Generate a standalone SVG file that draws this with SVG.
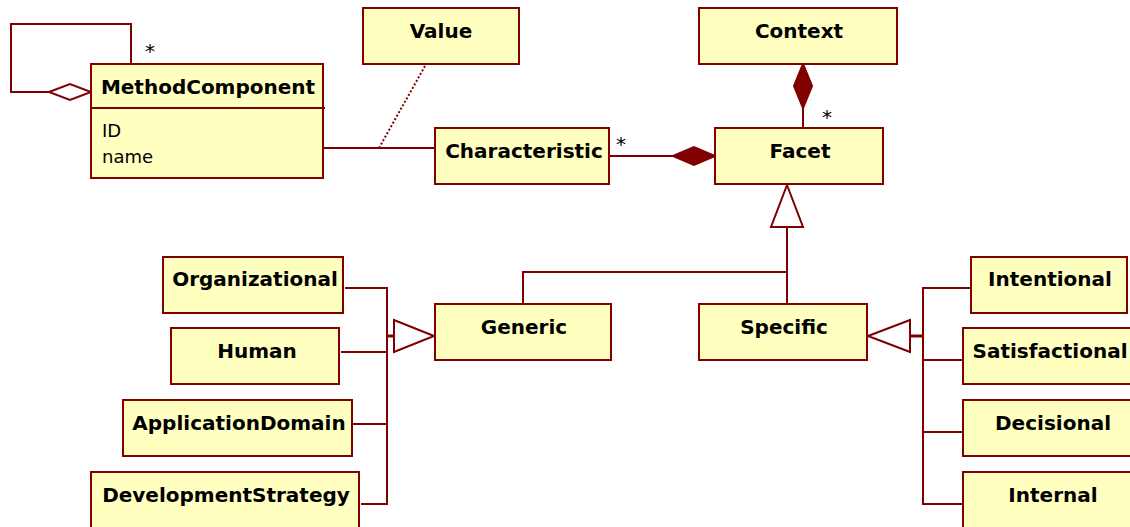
<svg xmlns="http://www.w3.org/2000/svg" width="1130" height="527" viewBox="0 0 1130 527">
<style>
.box{fill:#ffffc0;stroke:#800000;stroke-width:2}
.ln{fill:none;stroke:#800000;stroke-width:2}
.t{font-family:"DejaVu Sans",Verdana,sans-serif;font-weight:bold;font-size:20px;fill:#000;text-anchor:middle}
.a{font-family:"DejaVu Sans",Verdana,sans-serif;font-size:18px;fill:#000}
.m{font-family:"DejaVu Sans",Verdana,sans-serif;font-size:20px;fill:#000}
</style>
<rect width="1130" height="527" fill="#fff"/>
<g id="connectors">
<polyline class="ln" points="131,64 131,24 11,24 11,92 49,92"/>
<polygon points="49,92 70,84 91,92 70,100" fill="#fff" stroke="#800000" stroke-width="2"/>
<text class="m" x="145" y="58">*</text>
<line class="ln" x1="323" y1="148" x2="435" y2="148"/>
<line x1="425" y1="66" x2="379" y2="148" stroke="#800000" stroke-width="2" stroke-dasharray="2,2"/>
<line class="ln" x1="609" y1="156" x2="673" y2="156"/>
<polygon points="673,156 694,147 715,156 694,165" fill="#800000" stroke="#800000" stroke-width="2"/>
<text class="m" x="616" y="151">*</text>
<polygon points="803,64 812,86 803,108 794,86" fill="#800000" stroke="#800000" stroke-width="2"/>
<line class="ln" x1="803" y1="108" x2="803" y2="128"/>
<text class="m" x="822" y="124">*</text>
<polygon points="787,185 803,227 771,227" fill="#fff" stroke="#800000" stroke-width="2"/>
<polyline class="ln" points="787,227 787,304"/>
<polyline class="ln" points="523,304 523,272 787,272"/>
<polygon points="434,336 394,320 394,352" fill="#fff" stroke="#800000" stroke-width="2"/>
<line x1="387" y1="336" x2="394" y2="336" stroke="#800000" stroke-width="3"/>
<polyline class="ln" points="345,288 387,288 387,504 361,504"/>
<line class="ln" x1="341" y1="352" x2="387" y2="352"/>
<line class="ln" x1="352" y1="424" x2="387" y2="424"/>
<polygon points="868,336 910,320 910,352" fill="#fff" stroke="#800000" stroke-width="2"/>
<line x1="910" y1="336" x2="923" y2="336" stroke="#800000" stroke-width="3"/>
<polyline class="ln" points="971,288 923,288 923,504 963,504"/>
<line class="ln" x1="923" y1="360" x2="963" y2="360"/>
<line class="ln" x1="923" y1="432" x2="963" y2="432"/>
</g>
<g id="MethodComponent">
<rect class="box" x="91" y="64" width="232" height="114"/>
<line class="ln" x1="91" y1="108" x2="325" y2="108"/>
<text class="t" x="208" y="94">MethodComponent</text>
<text class="a" x="102" y="137">ID</text>
<text class="a" x="102" y="163">name</text>
</g>
<g id="Value"><rect class="box" x="363" y="8" width="156" height="56"/><text class="t" x="441" y="38">Value</text></g>
<g id="Context"><rect class="box" x="699" y="8" width="198" height="56"/><text class="t" x="799" y="38">Context</text></g>
<g id="Characteristic"><rect class="box" x="435" y="128" width="174" height="56"/><text class="t" x="524" y="158">Characteristic</text></g>
<g id="Facet"><rect class="box" x="715" y="128" width="168" height="56"/><text class="t" x="800" y="158">Facet</text></g>
<g id="Generic"><rect class="box" x="435" y="304" width="176" height="56"/><text class="t" x="524" y="334">Generic</text></g>
<g id="Specific"><rect class="box" x="699" y="304" width="168" height="56"/><text class="t" x="784" y="334">Specific</text></g>
<g id="Organizational"><rect class="box" x="163" y="257" width="180" height="56"/><text class="t" x="255" y="286">Organizational</text></g>
<g id="Human"><rect class="box" x="171" y="328" width="168" height="56"/><text class="t" x="257" y="358">Human</text></g>
<g id="ApplicationDomain"><rect class="box" x="123" y="400" width="229" height="56"/><text class="t" x="239" y="430">ApplicationDomain</text></g>
<g id="DevelopmentStrategy"><rect class="box" x="91" y="472" width="268" height="60"/><text class="t" x="226" y="502">DevelopmentStrategy</text></g>
<g id="Intentional"><rect class="box" x="971" y="257" width="156" height="56"/><text class="t" x="1050" y="286">Intentional</text></g>
<g id="Satisfactional"><rect class="box" x="963" y="328" width="177" height="56"/><text class="t" x="1050" y="358">Satisfactional</text></g>
<g id="Decisional"><rect class="box" x="963" y="400" width="177" height="56"/><text class="t" x="1053" y="430">Decisional</text></g>
<g id="Internal"><rect class="box" x="963" y="472" width="177" height="60"/><text class="t" x="1053" y="502">Internal</text></g>
</svg>
